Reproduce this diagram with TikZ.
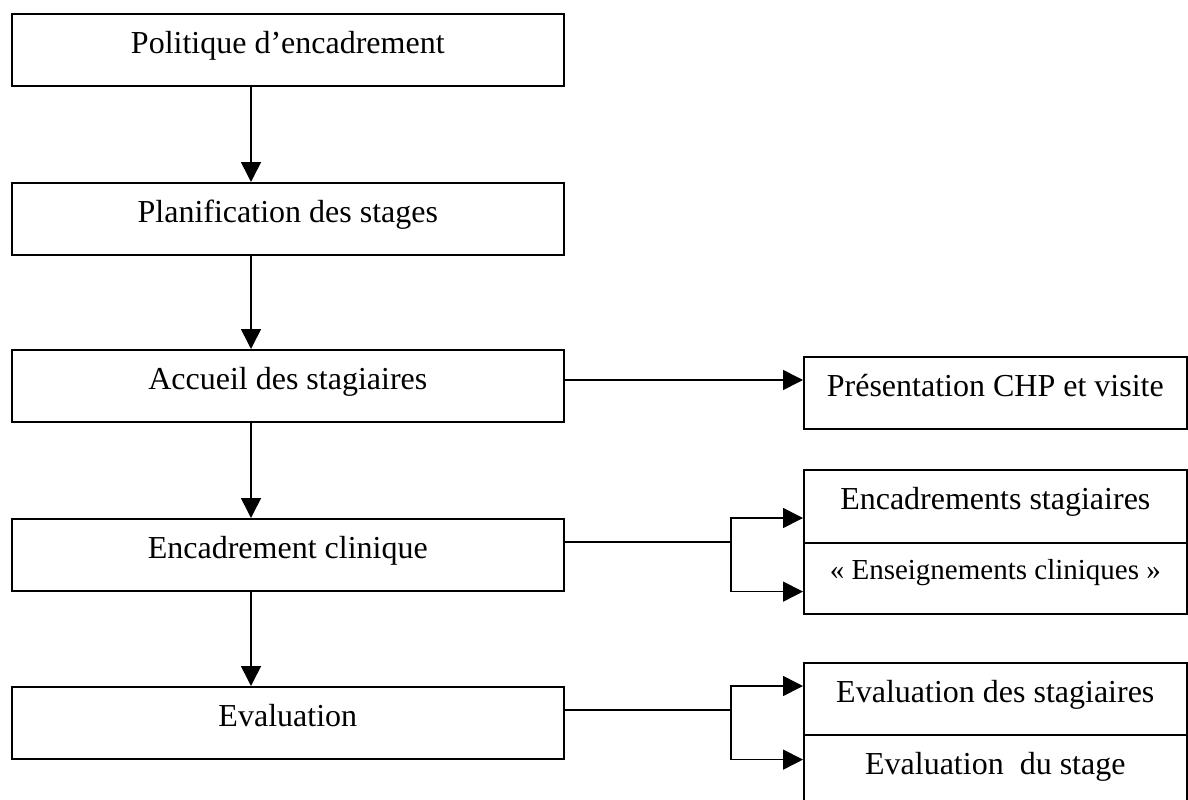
\documentclass[tikz,border=0pt]{standalone}
\usepackage{fontspec}
\setmainfont{Liberation Serif}
\usetikzlibrary{arrows.meta}
\begin{document}
\begin{tikzpicture}[x=1pt,y=-1pt,
  lbox/.style={draw, line width=1.6pt, inner sep=0pt, anchor=north west,
    minimum width=552pt, text height=40pt, text depth=32pt,
    font=\fontsize{32}{38}\selectfont},
  rbox/.style={lbox, minimum width=383pt},
  arr/.style={line width=1.6pt, -{Triangle[length=20pt,width=20pt]}},
  ln/.style={line width=1.6pt}]
\clip (0,0) rectangle (1188,800);
% left column
\node[lbox] (b1) at (11,13) {Politique d’encadrement};
\node[lbox] (b2) at (11,182) {Planification des stages};
\node[lbox] (b3) at (11,349) {Accueil des stagiaires};
\node[lbox] (b4) at (11,518) {Encadrement clinique};
\node[lbox] (b5) at (11,686) {Evaluation};
% right column
\node[rbox] (pres) at (803,356) {Présentation CHP et visite};
\node[rbox, text depth=33pt] (enc1) at (803,469) {Encadrements stagiaires};
\node[rbox, text height=37pt, text depth=34pt, font=\fontsize{29}{34}\selectfont] (enc2) at (803,542) {« Enseignements cliniques »};
\node[rbox] (ev1) at (803,662) {Evaluation des stagiaires};
\node[rbox] (ev2) at (803,734) {Evaluation~ du stage};
% vertical arrows
\coordinate (vx) at (251,0);
\draw[arr] (b1.south -| vx) -- (b2.north -| vx);
\draw[arr] (b2.south -| vx) -- (b3.north -| vx);
\draw[arr] (b3.south -| vx) -- (b4.north -| vx);
\draw[arr] (b4.south -| vx) -- (b5.north -| vx);
% accueil -> presentation
\coordinate (ay) at (0,380);
\draw[arr] (b3.east |- ay) -- (pres.west |- ay);
% encadrement branches
\coordinate (j4) at (731,542);
\draw[ln] (b4.east |- j4) -- (j4);
\draw[arr] (j4) |- (b4.north -| enc1.west);
\draw[arr] (j4) |- (b4.south -| enc2.west);
% evaluation branches
\coordinate (j5) at (731,710);
\draw[ln] (b5.east |- j5) -- (j5);
\draw[arr] (j5) |- (b5.north -| ev1.west);
\draw[arr] (j5) |- (b5.south -| ev2.west);
\end{tikzpicture}
\end{document}
